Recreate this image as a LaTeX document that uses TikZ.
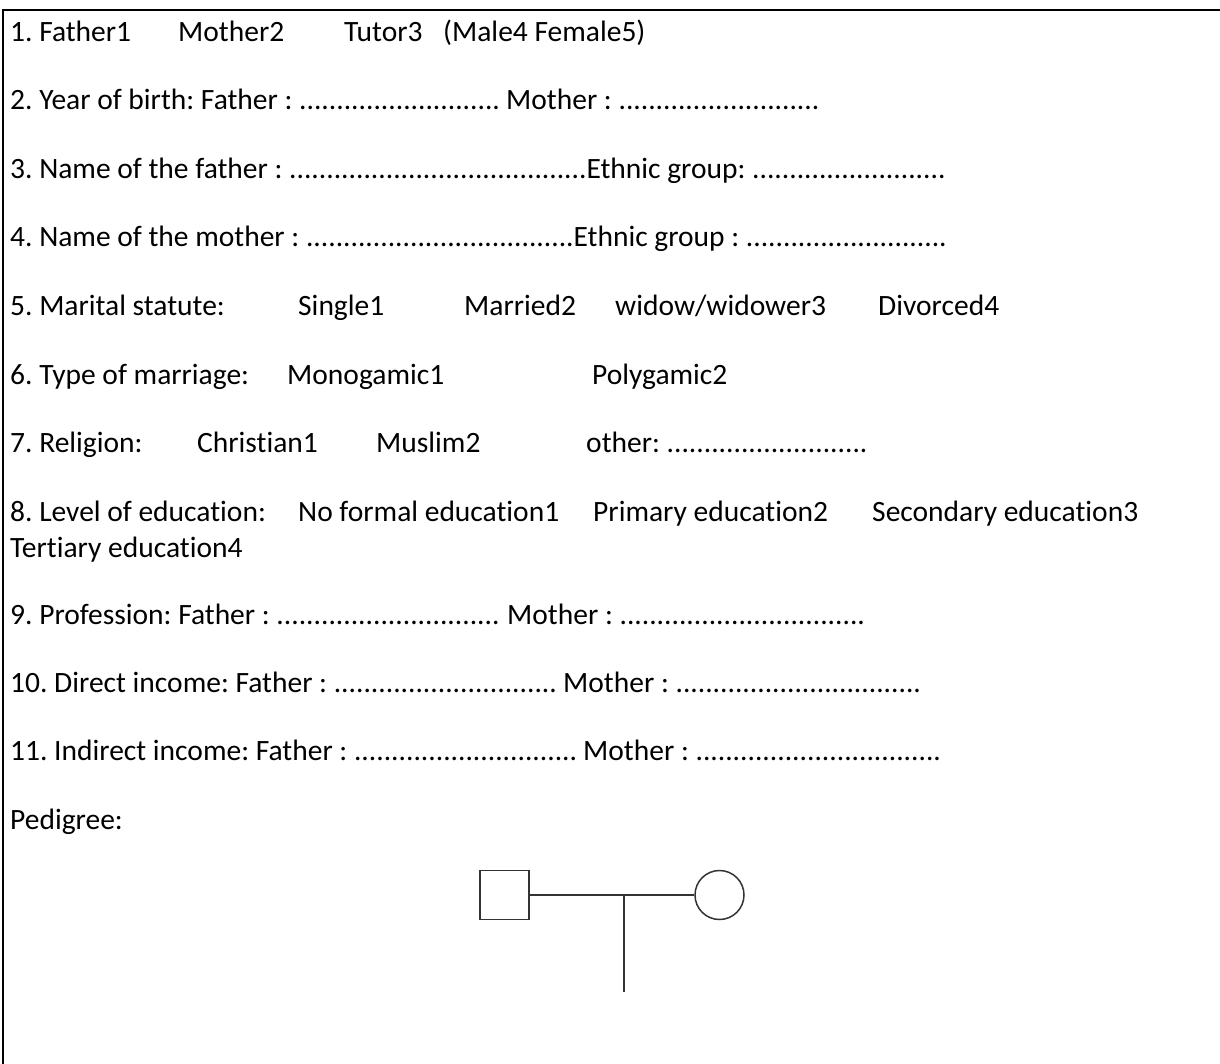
\documentclass[tikz,border=0pt]{standalone}
\usepackage{fontspec}
\setmainfont{Carlito}[Ligatures=NoCommon]
\ExplSyntaxOn
\cs_new:Npn \leaderdots #1 { \prg_replicate:nn {#1} {.} }
\ExplSyntaxOff
\frenchspacing
\begin{document}
\begin{tikzpicture}[x=1pt,y=-1pt,
  txt/.style={anchor=base west,inner sep=0pt,font=\fontsize{29.5pt}{36pt}\selectfont\frenchspacing},
  frame/.style={line width=2.4pt,black},
  ped/.style={draw=black!80,line width=1.5pt},
  pedline/.style={black!80,line width=1.5pt}]
\useasboundingbox (0,0) rectangle (1220,1064);
% frame
\draw[frame] (3,10) -- (1220,10);
\draw[frame] (3,8.8) -- (3,1064);
% line 1
\node[txt] (l1a) at (10,42) {1. Father1};
\node[txt] (l1b) at (178,42) {Mother2};
\node[txt] (l1c) at (344,42) {Tutor3};
\node[txt] (l1d) at (443,42) {(Male4 Female5)};
% line 2
\node[txt] (l2a) at (10,110) {2. Year of birth: Father : \leaderdots{27}};
\node[txt] (l2b) at (506,110) {Mother : \leaderdots{27}};
% line 3
\node[txt] (l3a) at (10,179) {3. Name of the father : \leaderdots{40}Ethnic group: \leaderdots{26}};
% line 4
\node[txt] (l4a) at (10,247) {4. Name of the mother : \leaderdots{36}Ethnic group : \leaderdots{27}};
% line 5
\node[txt] (l5a) at (10,316) {5. Marital statute:};
\node[txt] (l5b) at (298,316) {Single1};
\node[txt] (l5c) at (464,316) {Married2};
\node[txt] (l5d) at (615,316) {widow/widower3};
\node[txt] (l5e) at (878,316) {Divorced4};
% line 6
\node[txt] (l6a) at (10,384) {6. Type of marriage:};
\node[txt] (l6b) at (287,384) {Monogamic1};
\node[txt] (l6c) at (592,384) {Polygamic2};
% line 7
\node[txt] (l7a) at (10,452) {7. Religion:};
\node[txt] (l7b) at (197,452) {Christian1};
\node[txt] (l7c) at (376,452) {Muslim2};
\node[txt] (l7d) at (586,452) {other: \leaderdots{27}};
% line 8
\node[txt] (l8a) at (10,521) {8. Level of education:};
\node[txt] (l8b) at (298,521) {No formal education1};
\node[txt] (l8c) at (593,521) {Primary education2};
\node[txt] (l8d) at (872,521) {Secondary education3};
\node[txt] (l8e) at (10,557) {Tertiary education4};
% line 9
\node[txt] (l9a) at (10,624) {9. Profession: Father : \leaderdots{30}};
\node[txt] (l9b) at (507,624) {Mother : \leaderdots{33}};
% line 10
\node[txt] (l10a) at (10,692) {10. Direct income: Father : \leaderdots{30}};
\node[txt] (l10b) at (563,692) {Mother : \leaderdots{33}};
% line 11
\node[txt] (l11a) at (10,760) {11. Indirect income: Father : \leaderdots{30}};
\node[txt] (l11b) at (583,760) {Mother : \leaderdots{33}};
% pedigree
\node[txt] (pedt) at (10,829) {Pedigree:};
\node[ped,rectangle,minimum width=49pt,minimum height=49pt,inner sep=0pt] (sq) at (504.5,895) {};
\node[ped,circle,minimum size=49pt,inner sep=0pt] (ci) at (719.5,895) {};
\coordinate (mid) at (624,895);
\coordinate (child) at (624,992);
\draw[pedline] (sq.east) -- (ci.west);
\draw[pedline] (mid) -- (child);
\end{tikzpicture}
\end{document}
